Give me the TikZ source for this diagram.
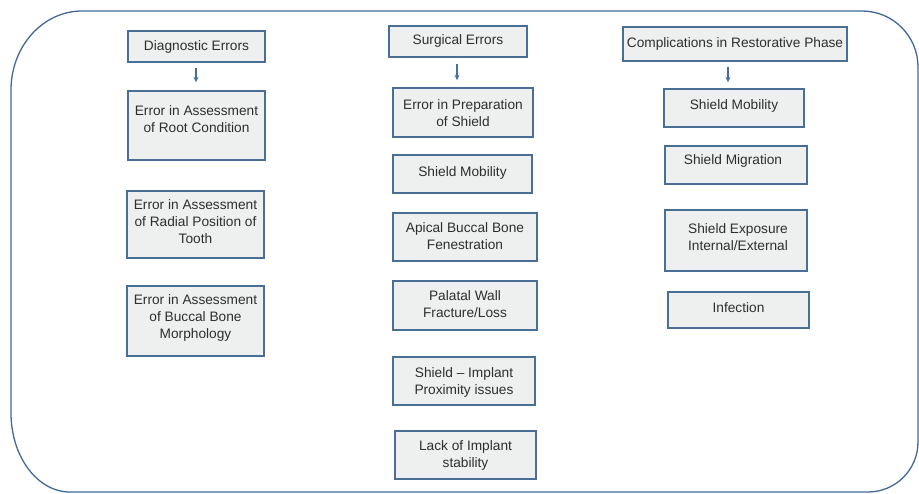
\documentclass[tikz,border=0pt]{standalone}
\usepackage{fontspec}
\setmainfont{Liberation Sans}
\usetikzlibrary{arrows.meta}
\definecolor{frameblue}{HTML}{41699A}
\definecolor{boxline}{HTML}{4A6F96}
\definecolor{boxfill}{HTML}{EEEFEF}
\definecolor{txtcol}{HTML}{2E2E2E}
\tikzset{
  box/.style={draw=boxline, fill=boxfill, line width=1.4pt, inner sep=0pt},
  txt/.style={text=txtcol, align=center, inner sep=0pt, font=\fontsize{13.7}{17}\selectfont},
  arr/.style={draw=boxline, line width=1.1pt, -{Stealth[length=5.5pt,width=5pt]}},
}
\begin{document}
\begin{tikzpicture}[x=1pt,y=-1pt]
\useasboundingbox (0,0) rectangle (919,493);
% outer frame
\draw[frameblue, line width=1.3pt]
  (82,11) -- (862,11)
  arc[start angle=-90, end angle=0, x radius=56, y radius=56]
  -- (918,442)
  arc[start angle=0, end angle=90, x radius=50, y radius=50]
  -- (70,492)
  arc[start angle=90, end angle=180, x radius=59, y radius=79]
  -- (11,90)
  arc[start angle=180, end angle=270, x radius=71, y radius=79];
% column 1
\node[box, minimum width=137pt, minimum height=31pt] (d0) at (196.5,46.5) {};
\node[txt] (d0t) at (d0) {Diagnostic Errors};
\node[box, minimum width=137pt, minimum height=69pt] (d1) at (196.5,125.5) {};
\node[txt] (d1t) at (196.5,119) {Error in Assessment\\of Root Condition};
\node[box, minimum width=137pt, minimum height=67pt] (d2) at (195.5,224.5) {};
\node[txt] (d2t) at (195.5,222) {Error in Assessment\\of Radial Position of\\Tooth};
\node[box, minimum width=137pt, minimum height=70pt] (d3) at (195.5,321) {};
\node[txt] (d3t) at (195.5,318) {Error in Assessment\\of Buccal Bone\\Morphology};
% column 2
\node[box, minimum width=138pt, minimum height=31pt] (s0) at (458,41.5) {};
\node[txt] (s0t) at (458,41) {Surgical Errors};
\node[box, minimum width=140pt, minimum height=49pt] (s1) at (463,112.5) {};
\node[txt] (s1t) at (463,113.5) {Error in Preparation\\of Shield};
\node[box, minimum width=139pt, minimum height=38pt] (s2) at (462.5,174) {};
\node[txt] (s2t) at (462.5,172.5) {Shield Mobility};
\node[box, minimum width=144pt, minimum height=48pt] (s3) at (465,237) {};
\node[txt] (s3t) at (465,236.5) {Apical Buccal Bone\\Fenestration};
\node[box, minimum width=144pt, minimum height=49pt] (s4) at (465,305.5) {};
\node[txt] (s4t) at (465,304.5) {Palatal Wall\\Fracture/Loss};
\node[box, minimum width=142pt, minimum height=48pt] (s5) at (464,381) {};
\node[txt] (s5t) at (464,382.5) {Shield -- Implant\\Proximity issues};
\node[box, minimum width=141pt, minimum height=48pt] (s6) at (465.5,455) {};
\node[txt] (s6t) at (465.5,455) {Lack of Implant\\stability};
% column 3
\node[box, minimum width=224pt, minimum height=34pt] (c0) at (735,44) {};
\node[txt] (c0t) at (735,44) {Complications in Restorative Phase};
\node[box, minimum width=140pt, minimum height=38pt] (c1) at (734,108) {};
\node[txt] (c1t) at (734,106) {Shield Mobility};
\node[box, minimum width=142pt, minimum height=38pt] (c2) at (736,165) {};
\node[txt] (c2t) at (733,161) {Shield Migration};
\node[box, minimum width=142pt, minimum height=61pt] (c3) at (736,240.5) {};
\node[txt] (c3t) at (738,237) {Shield Exposure\\Internal/External};
\node[box, minimum width=141pt, minimum height=36pt] (c4) at (738.5,310) {};
\node[txt] (c4t) at (738.5,307.5) {Infection};
% arrows
\draw[arr, shorten <=5pt, shorten >=8pt] ([xshift=-0.5pt]d0.south) -- ([xshift=-0.5pt]d0.south |- d1.north);
\draw[arr, shorten <=6pt, shorten >=7pt] ([xshift=-1pt]s0.south) -- ([xshift=-1pt]s0.south |- s1.north);
\draw[arr, shorten <=5pt, shorten >=6pt] ([xshift=-7pt]c0.south) -- ([xshift=-7pt]c0.south |- c1.north);
\end{tikzpicture}
\end{document}
